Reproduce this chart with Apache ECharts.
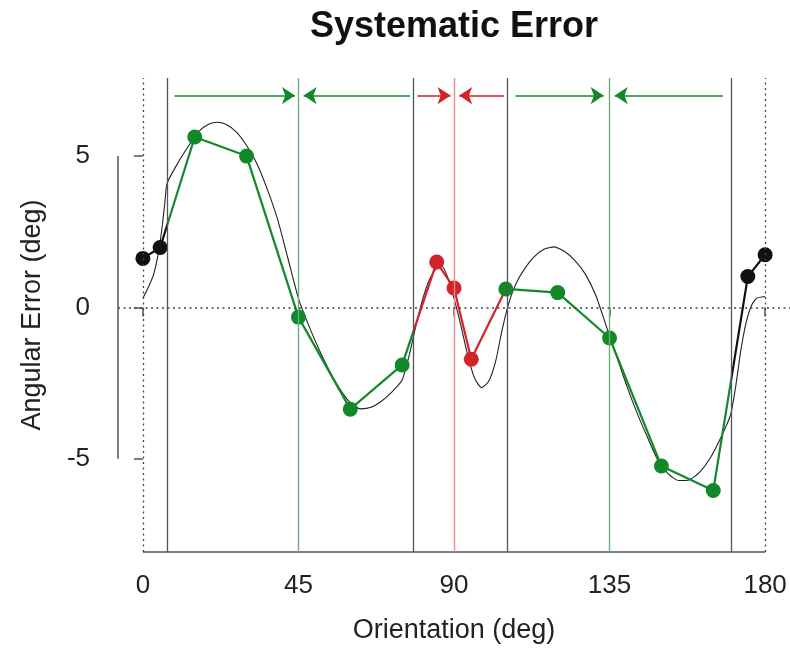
<!DOCTYPE html>
<html>
<head>
<meta charset="utf-8">
<script src="https://cdn.jsdelivr.net/npm/echarts@6/dist/echarts.min.js"></script>
<style>
html,body{margin:0;padding:0;background:#fff;}
#chart{width:790px;height:649px;}
</style>
</head>
<body>
<div id="chart"></div>
<script>
// ---- data ----
const orientations = [0, 5, 15, 30, 45, 60, 75, 85, 90, 95, 105, 120, 135, 150, 165, 175, 180];
const errors = [1.62, 1.98, 5.63, 5.0, -0.32, -3.36, -1.9, 1.5, 0.64, -1.71, 0.61, 0.49, -1.01, -5.24, -6.05, 1.02, 1.74];

const fitX = [0, 1.5, 3, 4.5, 5.5, 6.3, 7, 10, 13, 16, 19, 21.5, 24, 27, 30, 33, 36, 39, 42, 45, 48, 51, 54, 57, 60, 63, 66, 69, 72, 75, 77, 79, 81, 83, 85, 86.5, 88, 90, 92, 94, 96, 98, 100, 102, 104, 106, 108, 110, 113, 116, 119, 122, 125, 128, 131, 134, 137, 140, 143, 146, 149, 152, 155, 158, 161, 164, 167, 170, 171.5, 173, 174.5, 176, 177.5, 180];
const fitY = [0.3, 0.65, 1.05, 1.8, 2.6, 3.4, 4.1, 4.75, 5.3, 5.8, 6.05, 6.12, 6.05, 5.8, 5.35, 4.75, 3.9, 2.9, 1.6, 0.3, -0.6, -1.4, -2.1, -2.7, -3.15, -3.35, -3.3, -3.1, -2.8, -2.4, -1.6, -0.6, 0.3, 0.95, 1.3, 1.35, 1.05, 0.3, -0.6, -1.6, -2.35, -2.65, -2.45, -1.8, -0.7, 0.2, 0.8, 1.2, 1.65, 1.92, 2.0, 1.85, 1.55, 1.1, 0.4, -0.6, -1.6, -2.6, -3.5, -4.3, -5.05, -5.5, -5.72, -5.7, -5.45, -5.0, -4.35, -3.55, -2.6, -1.4, -0.5, 0.05, 0.3, 0.36];

const boundaries = [7, 78.3, 105.3, 170.2];
const centers = [45, 90, 135];
const centerKinds = ['green', 'red', 'green'];
const arrowY = 7;
const greenArrows = [[9.2, 44], [77.3, 46.5], [107.8, 133.3], [167.8, 136.5]];
const redArrows = [[79.4, 89], [104.5, 91.5]];
const xTicks = [0, 45, 90, 135, 180];
const yTicks = [-5, 0, 5];
const xRange = [-7.2, 187.2];
const yRange = [-8.08, 7.58];
const classEdges = [7, 78.3, 104.9, 170.2];

// ---- style ----
const FONT = '"Liberation Sans", Arial, Helvetica, sans-serif';
const GREEN = '#13882a';
const RED = '#d2222a';
const BLACK = '#111111';
const AXIS = '#555555';
const centerColor = { green: '#6daf7c', red: '#ee8a8e' };

const chart = echarts.init(document.getElementById('chart'), null, { renderer: 'canvas' });

const markData = [];
boundaries.forEach(b => markData.push({ xAxis: b, lineStyle: { color: '#555', width: 1.3, type: 'solid' } }));
centers.forEach((c, i) => markData.push({ xAxis: c, lineStyle: { color: centerColor[centerKinds[i]], width: 1.4, type: 'solid' } }));
[xTicks[0], xTicks[xTicks.length - 1]].forEach(v => markData.push({ xAxis: v, lineStyle: { color: '#444', width: 1.3, type: [2, 3.5] } }));
markData.push({ yAxis: 0, lineStyle: { color: '#444', width: 1.5, type: [2, 3.5] } });

const arrowData = [];
greenArrows.forEach(a => arrowData.push({ coords: [[a[0], arrowY], [a[1], arrowY]], lineStyle: { color: GREEN } }));
redArrows.forEach(a => arrowData.push({ coords: [[a[0], arrowY], [a[1], arrowY]], lineStyle: { color: RED } }));

const option = {
  animation: false,
  backgroundColor: '#fff',
  graphic: [{
    type: 'text', x: 454, y: 27,
    style: { text: 'Systematic Error', align: 'center', verticalAlign: 'middle',
      fontSize: 36, fontWeight: 'bold', fontFamily: FONT, fill: '#111' }
  }],
  grid: { left: 118, right: 0, top: 78, bottom: 94, containLabel: false },
  xAxis: {
    type: 'value', min: xRange[0], max: xRange[1],
    axisLine: { show: false },
    splitLine: { show: false },
    axisTick: { show: true, customValues: xTicks, length: 9, lineStyle: { color: AXIS, width: 1.5 } },
    axisLabel: { customValues: xTicks, fontSize: 26, fontFamily: FONT, color: '#222', margin: 21 },
    name: 'Orientation (deg)', nameLocation: 'middle', nameGap: 65,
    nameTextStyle: { fontSize: 27, fontFamily: FONT, color: '#222' }
  },
  yAxis: {
    type: 'value', min: yRange[0], max: yRange[1],
    axisLine: { show: false },
    splitLine: { show: false },
    axisTick: { show: true, customValues: yTicks, length: 9, lineStyle: { color: AXIS, width: 1.5 } },
    axisLabel: { customValues: yTicks, fontSize: 26, fontFamily: FONT, color: '#222', margin: 28 },
    name: 'Angular Error (deg)', nameLocation: 'middle', nameGap: 72, nameRotate: 90,
    nameTextStyle: { fontSize: 27, fontFamily: FONT, color: '#222' }
  },
  visualMap: {
    type: 'piecewise', show: false, dimension: 0, seriesIndex: 3,
    pieces: [
      { lt: classEdges[0], color: BLACK },
      { gte: classEdges[0], lt: classEdges[1], color: GREEN },
      { gte: classEdges[1], lt: classEdges[2], color: RED },
      { gte: classEdges[2], lt: classEdges[3], color: GREEN },
      { gte: classEdges[3], color: BLACK }
    ]
  },
  series: [
    {
      type: 'line', name: 'xaxis', silent: true, clip: false, symbol: 'none', z: 1,
      data: [[xTicks[0], yRange[0]], [xTicks[xTicks.length - 1], yRange[0]]],
      lineStyle: { color: AXIS, width: 1.5 },
      markLine: { silent: true, symbol: ['none', 'none'], label: { show: false }, data: markData, animation: false }
    },
    {
      type: 'line', name: 'yaxis', silent: true, clip: false, symbol: 'none', z: 1,
      data: [[xRange[0], yTicks[0]], [xRange[0], yTicks[yTicks.length - 1]]],
      lineStyle: { color: AXIS, width: 1.5 }
    },
    {
      type: 'line', name: 'fit', silent: true, symbol: 'none', smooth: 0.2, z: 2,
      data: fitX.map((x, i) => [x, fitY[i]]),
      lineStyle: { color: '#222', width: 1.1 }
    },
    {
      type: 'line', name: 'data', symbol: 'circle', symbolSize: 15, z: 4,
      data: orientations.map((x, i) => [x, errors[i]]),
      lineStyle: { width: 2.2 },
      itemStyle: { borderWidth: 0 }
    },
    {
      type: 'lines', coordinateSystem: 'cartesian2d', silent: true, z: 3,
      symbol: ['none', 'arrow'], symbolSize: 13,
      lineStyle: { width: 1.5, opacity: 1 },
      data: arrowData
    }
  ]
};
chart.setOption(option);
</script>
</body>
</html>
